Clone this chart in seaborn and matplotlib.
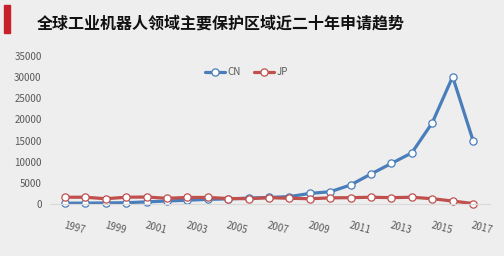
import matplotlib
matplotlib.use("Agg")
import matplotlib.pyplot as plt
import seaborn as sns
import pandas as pd

years = list(range(1997, 2018))
cn = [200, 200, 250, 300, 500, 700, 900, 1100, 1200, 1400, 1550, 1750, 2500, 2900,
      4500, 7100, 9600, 12100, 19200, 30100, 15000]
jp = [1600, 1600, 1250, 1600, 1650, 1350, 1550, 1550, 1300, 1250, 1500, 1350, 1250,
      1450, 1500, 1600, 1500, 1600, 1250, 700, 100]
series_names = ["CN", "JP"]
colors = ["#4A7EBB", "#C0504D"]
title = "全球工业机器人领域主要保护区域近二十年申请趋势"
yticks = [0, 5000, 10000, 15000, 20000, 25000, 30000, 35000]
xticks = list(range(1997, 2018, 2))

df = pd.DataFrame({"year": years * 2,
                   "value": cn + jp,
                   "series": ["CN"] * len(years) + ["JP"] * len(years)})

sns.set_theme(style="white")
plt.rcParams["font.family"] = ["Noto Sans CJK SC", "DejaVu Sans"]
bg = "#EEEEEE"
fig = plt.figure(figsize=(5.04, 2.56), dpi=100, facecolor=bg)
ax = fig.add_axes([50 / 504, 52 / 256, 440 / 504, 148 / 256], facecolor=bg)

sns.lineplot(data=df, x="year", y="value", hue="series", hue_order=series_names,
             palette=colors, linewidth=2.3, marker="o", markersize=5.2,
             markerfacecolor="white", markeredgewidth=0.9, ax=ax, clip_on=False)
for line, c in zip(ax.lines, colors):
    line.set_markeredgecolor(c)
    line.set_clip_on(False)

ax.set_xlim(1996.27, 2017.83)
ax.set_ylim(0, 35000)
ax.set_yticks(yticks)
ax.set_yticklabels([str(v) for v in yticks], fontsize=7, color="#595959")
ax.set_xticks(xticks)
ax.set_xticklabels([str(v) for v in xticks], fontsize=7, color="#595959",
                   rotation=-15, rotation_mode="anchor", ha="left", va="top")
ax.tick_params(axis="x", pad=12, length=0)
ax.tick_params(axis="y", pad=6, length=0)
for s in ["top", "right", "left"]:
    ax.spines[s].set_visible(False)
ax.spines["bottom"].set_color("#D9D9D9")
ax.spines["bottom"].set_linewidth(0.8)
ax.set_xlabel("")
ax.set_ylabel("")

handles, labels = ax.get_legend_handles_labels()
for h, c in zip(handles, colors):
    h.set_marker("o")
    h.set_markerfacecolor("white")
    h.set_markeredgecolor(c)
    h.set_markersize(5.2)
    h.set_linewidth(2.3)
leg = ax.legend(handles, labels, loc="upper center", bbox_to_anchor=(0.447, 0.985),
                ncol=2, frameon=False, fontsize=7, handlelength=2.0,
                columnspacing=1.4, handletextpad=0.3)
for t in leg.get_texts():
    t.set_color("#595959")

fig.patches.append(plt.Rectangle((4 / 504, 1 - 33 / 256), 6 / 504, 28 / 256,
                                 transform=fig.transFigure, color="#C8202B"))
fig.text(37 / 504, 1 - 24 / 256, title, fontsize=11.5, fontweight="bold",
         color="#111111", va="center", ha="left")

fig.savefig("out.png", dpi=100, facecolor=bg)
